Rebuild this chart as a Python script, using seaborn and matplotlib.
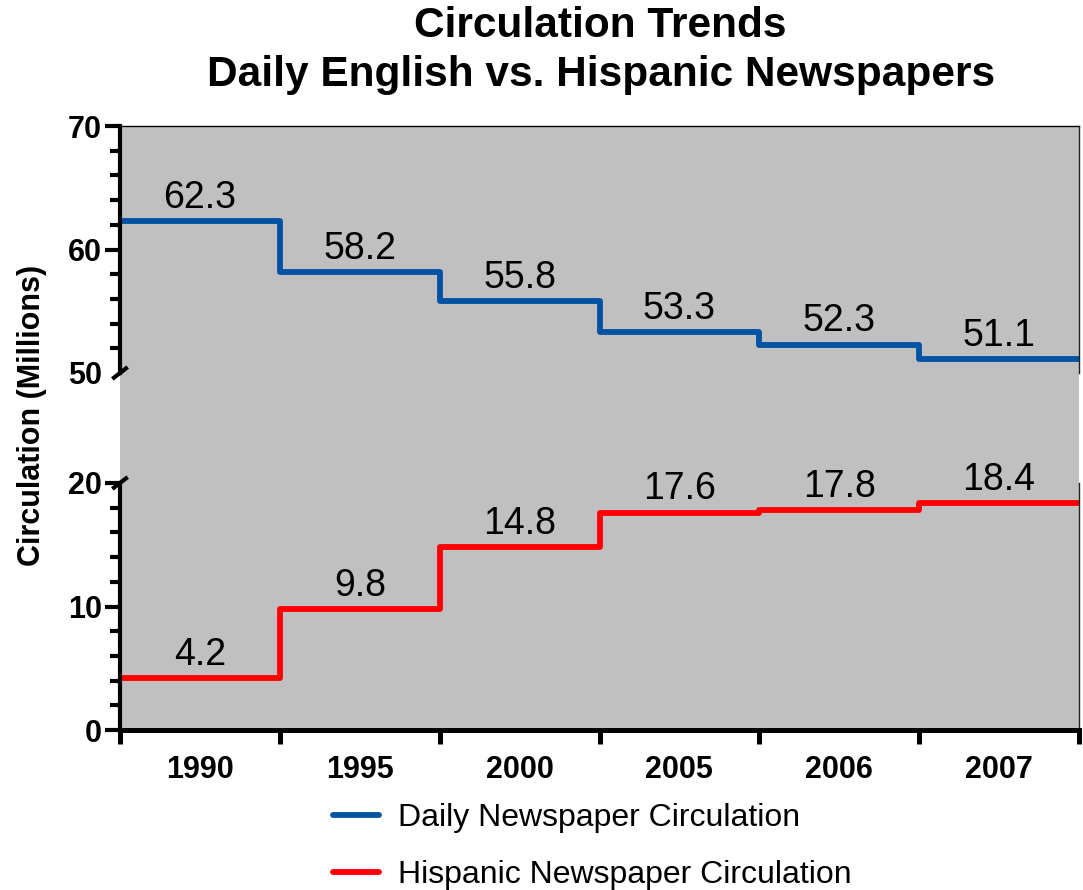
import numpy as np
import pandas as pd
import seaborn as sns
import matplotlib
matplotlib.use("Agg")
import matplotlib.pyplot as plt

# data
years = ["1990", "1995", "2000", "2005", "2006", "2007"]
daily = [62.3, 58.2, 55.8, 53.3, 52.3, 51.1]
hispanic = [4.2, 9.8, 14.8, 17.6, 17.8, 18.4]

BLUE = "#0052a3"
RED = "#ff0000"
GRAY = "#c0c0c0"

sns.set_theme(style="ticks")
plt.rcParams["font.family"] = ["Liberation Sans", "DejaVu Sans"]
plt.rcParams["text.color"] = "black"
plt.rcParams["xtick.color"] = "black"
plt.rcParams["ytick.color"] = "black"
plt.rcParams["axes.labelcolor"] = "black"


def step_frame(values):
    # one segment per category: x from i to i+1, repeat last value for the end
    x = np.arange(len(values) + 1)
    y = list(values) + [values[-1]]
    return pd.DataFrame({"x": x, "y": y})


W, H = 1083, 890
fig = plt.figure(figsize=(W / 100, H / 100), dpi=100)

left, right = 120 / W, 1079 / W
top_hi, top_lo = 1 - 126 / H, 1 - 373 / H
bot_hi, bot_lo = 1 - 483 / H, 1 - 730 / H

# grey background also fills the break between the two panels
bg = fig.add_axes([left, bot_lo, right - left, top_hi - bot_lo], zorder=0)
bg.set_facecolor(GRAY)
bg.set_xticks([])
bg.set_yticks([])
for s in bg.spines.values():
    s.set_visible(False)

ax_top = fig.add_axes([left, top_lo, right - left, top_hi - top_lo], zorder=1)
ax_bot = fig.add_axes([left, bot_lo, right - left, bot_hi - bot_lo], zorder=1)

sns.lineplot(data=step_frame(daily), x="x", y="y", ax=ax_top, color=BLUE,
             lw=4.2, drawstyle="steps-post", label="Daily Newspaper Circulation",
             legend=False)
sns.lineplot(data=step_frame(hispanic), x="x", y="y", ax=ax_bot, color=RED,
             lw=4.2, drawstyle="steps-post", label="Hispanic Newspaper Circulation",
             legend=False)

for ax, vals, lims, ticks in [(ax_top, daily, (50, 70), [50, 60, 70]),
                              (ax_bot, hispanic, (0, 20), [0, 10, 20])]:
    ax.set_facecolor(GRAY)
    ax.set_xlim(0, len(years))
    ax.set_ylim(*lims)
    ax.set_yticks(ticks)
    ax.set_yticks(np.arange(lims[0], lims[1] + 1, 2), minor=True)
    ax.set_xlabel("")
    ax.set_ylabel("")
    ax.tick_params(axis="y", which="major", length=11, width=3, pad=2,
                   labelsize=22, color="black", labelcolor="black")
    ax.tick_params(axis="y", which="minor", length=7, width=3, color="black")
    for lab in ax.get_yticklabels():
        lab.set_fontweight("bold")
    ax.spines["left"].set_linewidth(3)
    ax.spines["left"].set_color("black")
    ax.spines["right"].set_linewidth(1)
    ax.spines["right"].set_color("#222222")
    for i, v in enumerate(vals):
        ax.annotate(f"{v}", (i + 0.5, v), xytext=(0, 9.5),
                    textcoords="offset points", ha="center", va="baseline",
                    fontsize=27, color="black")

# top panel: no x axis, thin top border
ax_top.set_xticks([])
ax_top.spines["bottom"].set_visible(False)
ax_top.spines["top"].set_linewidth(1)
ax_top.spines["top"].set_color("black")
ax_top.yaxis.get_major_ticks()[0].tick1line.set_visible(False)

# bottom panel: category boundaries as ticks, labels centred in between
ax_bot.spines["top"].set_visible(False)
ax_bot.spines["bottom"].set_linewidth(3.6)
ax_bot.spines["bottom"].set_color("black")
ax_bot.set_xticks(np.arange(len(years) + 1))
ax_bot.set_xticklabels([])
ax_bot.set_xticks(np.arange(len(years)) + 0.5, minor=True)
ax_bot.set_xticklabels(years, minor=True, fontsize=22, fontweight="bold",
                       color="black")
ax_bot.tick_params(axis="x", which="major", length=10, width=3.6, color="black")
ax_bot.tick_params(axis="x", which="minor", length=0, pad=18)

# break marks on the left spine
dx, dy = 0.008, 0.024
ax_top.plot([-dx, dx], [-dy, dy], transform=ax_top.transAxes, color="black",
            lw=3, clip_on=False, solid_capstyle="butt")
ax_bot.plot([-dx, dx], [1 - dy, 1 + dy], transform=ax_bot.transAxes,
            color="black", lw=3, clip_on=False, solid_capstyle="butt")

fig.text(600 / W, 1 - 26 / H, "Circulation Trends", ha="center", va="center",
         fontsize=30.5, fontweight="heavy", color="black")
fig.text(601 / W, 1 - 75 / H, "Daily English vs. Hispanic Newspapers",
         ha="center", va="center", fontsize=30.5, fontweight="heavy",
         color="black")
fig.text(32 / W, 1 - 415 / H, "Circulation (Millions)", rotation=90,
         ha="center", va="center", fontsize=22, fontweight="bold",
         color="black")

handles = ax_top.get_lines()[:1] + ax_bot.get_lines()[:1]
fig.legend(handles, [h.get_label() for h in handles], loc="upper left",
           bbox_to_anchor=(333 / W, 1 - 803 / H), frameon=False, fontsize=23,
           handlelength=1.45, handletextpad=0.6, labelspacing=0.85,
           borderpad=0, borderaxespad=0)

fig.savefig("out.png", dpi=100)
